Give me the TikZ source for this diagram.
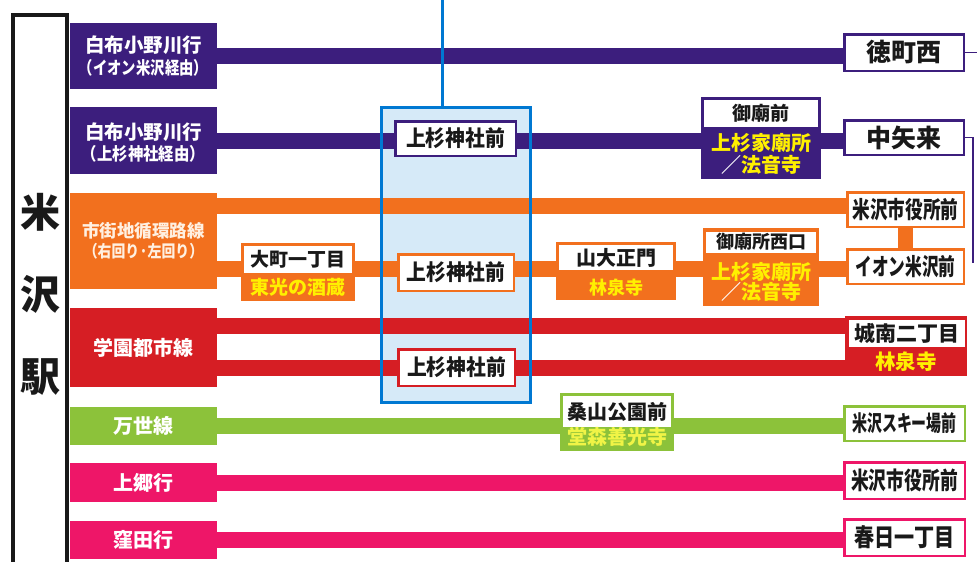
\documentclass[tikz,border=0pt]{standalone}
\usepackage{fontspec}
\setmainfont{Noto Sans CJK JP}
\definecolor{cpur}{RGB}{60,30,125}
\definecolor{cora}{RGB}{242,112,30}
\definecolor{cred}{RGB}{214,30,36}
\definecolor{cgrn}{RGB}{140,194,58}
\definecolor{cpnk}{RGB}{238,22,104}
\definecolor{cblu}{RGB}{0,120,210}
\definecolor{clbl}{RGB}{214,234,248}
\definecolor{ink}{RGB}{25,25,25}
\definecolor{yel}{RGB}{255,240,0}
\newcommand{\condtxt}[2]{\scalebox{#1}[1]{#2}}
\tikzset{
  nbase/.style={inner sep=0pt, outer sep=0pt, align=center},
  fs/.style={font=\bfseries\fontsize{#1}{#1}\selectfont},
  lab/.style={nbase, fill=#1, text=white, minimum width=147pt},
  stopbox/.style={nbase, draw=#1, fill=white, line width=2.5pt, text=ink},
  combo/.style={nbase, fill=#1},
  whitepart/.style={nbase, fill=white, text=ink},
  yeltext/.style={nbase, text=yel},
  route/.style={draw=#1, line width=16pt},
}
\begin{document}
\begin{tikzpicture}[x=1pt,y=-1pt]
\useasboundingbox (0,0) rectangle (977,562);
\clip (0,0) rectangle (977,562);
\fill[white] (0,0) rectangle (977,562);

% blue area (fill)
\node[nbase, fill=clbl, minimum width=149pt, minimum height=295pt] (ubox) at (455.5,254.5) {};

% left labels
\node[lab=cpur, minimum height=66pt] (lab1) at (143.5,56) {};
\node[nbase, text=white, font=\bfseries] (lab1t) at (lab1)
  {\fontsize{19.5}{20}\selectfont 白布小野川行\\[4pt]\fontsize{17.5}{18}\selectfont\condtxt{0.82}{（イオン米沢経由）}};
\node[lab=cpur, minimum height=67pt] (lab2) at (143.5,140.5) {};
\node[nbase, text=white, font=\bfseries] (lab2t) at (143.5,142.5)
  {\fontsize{19.5}{20}\selectfont 白布小野川行\\[2pt]\fontsize{17.5}{18}\selectfont\condtxt{0.88}{（上杉神社経由）}};
\node[lab=cora, minimum height=96pt] (lab3) at (143.5,241) {};
\node[nbase, text={rgb,255:red,255;green,240;blue,225}, font=\bfseries] (lab3t) at (143.5,241)
  {\fontsize{17.5}{18}\selectfont 市街地循環路線\\[3pt]\fontsize{16.5}{17}\selectfont\condtxt{0.84}{（右回り·左回り）}};
\node[lab=cred, minimum height=79pt, fs=20] (lab4) at (143.5,347.5) {学園都市線};
\node[lab=cgrn, minimum height=38pt, fs=20] (lab5) at (143.5,426) {万世線};
\node[lab=cpnk, minimum height=39pt, fs=20] (lab6) at (143.5,482.5) {上郷行};
\node[lab=cpnk, minimum height=38pt, fs=20] (lab7) at (143.5,540) {窪田行};

% station box
\node[nbase, draw=ink, fill=white, line width=4pt, minimum width=54pt, minimum height=580pt, anchor=north] (eki) at (40,15) {};
\node[nbase, text=ink, font=\bfseries\fontsize{40}{82}\selectfont] (ekiname) at (40,294.5) {米\\沢\\駅};

% right stops
\node[stopbox=cpur, minimum width=119.5pt, minimum height=36.5pt, fs=25] (toku) at (904,52.5) {徳町西};
\node[stopbox=cpur, minimum width=119.5pt, minimum height=34.5pt, fs=25] (naka) at (904,137.5) {中矢来};
\node[stopbox=cora, minimum width=116.5pt, minimum height=34.5pt, fs=23.5] (shiyaku1) at (905.5,209.5) {\condtxt{0.75}{米沢市役所前}};
\node[stopbox=cora, minimum width=116.5pt, minimum height=34.5pt, fs=23.5] (aeon) at (905.5,266.5) {\condtxt{0.71}{イオン米沢前}};
\node[stopbox=cgrn, minimum width=120.5pt, minimum height=34.5pt, fs=22] (ski) at (904.5,423.5) {\condtxt{0.68}{米沢スキー場前}};
\node[stopbox=cpnk, minimum width=120.5pt, minimum height=36.5pt, fs=24] (shiyaku2) at (904.5,480.5) {\condtxt{0.74}{米沢市役所前}};
\node[stopbox=cpnk, minimum width=120.5pt, minimum height=36.5pt, fs=24.5] (kasuga) at (904.5,537.5) {\condtxt{0.82}{春日一丁目}};

% combined stops (outer parts)
\node[combo=cpur, minimum width=120pt, minimum height=82pt] (gobyo) at (761,138) {};
\node[combo=cora, minimum width=116pt, minimum height=78pt] (gobyonishi) at (761,267) {};
\node[combo=cora, minimum width=120pt, minimum height=58pt] (sandai) at (616,271) {};
\node[combo=cora, minimum width=114pt, minimum height=58pt] (omachi) at (298,272) {};
\node[combo=cgrn, minimum width=114pt, minimum height=58pt] (kuwa) at (617,422) {};
\node[combo=cred, minimum width=122pt, minimum height=60pt] (jonan) at (906,346) {};

% route lines
\draw[route=cpur] (lab1.east) -- (lab1.east -| toku.west);
\draw[route=cpur] (lab2.east) -- (lab2.east -| naka.west);
\draw[route=cora] ([yshift=35pt]lab3.east) -- ([yshift=35pt]lab3.east -| shiyaku1.west);
\draw[route=cora] ([yshift=-28pt]lab3.east) -- ([yshift=-28pt]lab3.east -| aeon.west);
\draw[route=cora, line width=15pt] (shiyaku1.south) -- (aeon.north);
\draw[route=cred] ([yshift=21.5pt]lab4.east) -- ([yshift=21.5pt]lab4.east -| jonan.west);
\draw[route=cred] ([yshift=-20.5pt]lab4.east) -- ([yshift=-20.5pt]lab4.east -| jonan.west);
\draw[route=cgrn] (lab5.east) -- (lab5.east -| ski.west);
\draw[route=cpnk] (lab6.east) -- (lab6.east -| shiyaku2.west);
\draw[route=cpnk] (lab7.east) -- (lab7.east -| kasuga.west);

% thin connectors at right
\coordinate (tokuEnd) at (977,52.5);
\coordinate (nakaEnd) at (973,263);
\draw[cpur, line width=1.5pt] (toku.east) -- (tokuEnd);
\draw[cpur, line width=1.5pt] (naka.east) -| (nakaEnd);

% blue box border and vertical line
\coordinate (blueTop) at (442,0);
\draw[cblu, line width=3pt] (blueTop) -- (blueTop |- ubox.north);
\draw[cblu, line width=3pt] (ubox.north west) rectangle (ubox.south east);

% stops inside blue box
\node[stopbox=cpur, minimum width=120.5pt, minimum height=34.5pt, fs=22] (us1) at (455.5,138.5) {\condtxt{0.9}{上杉神社前}};
\node[stopbox=cora, minimum width=115.5pt, minimum height=36.5pt, fs=22] (us2) at (456,272.5) {\condtxt{0.9}{上杉神社前}};
\node[stopbox=cred, minimum width=116.5pt, minimum height=36.5pt, fs=22] (us3) at (456.5,367.5) {\condtxt{0.9}{上杉神社前}};

% redraw combined stops on top of lines
\node[combo=cpur, minimum width=120pt, minimum height=82pt] at (gobyo) {};
\node[whitepart, minimum width=114pt, minimum height=27pt, fs=19] (gobyoN) at (761,113.5) {御廟前};
\node[yeltext, font=\bfseries\fontsize{20}{22}\selectfont] (gobyoY) at (761,154) {上杉家廟所\\{\color{white}／}法音寺};

\node[combo=cora, minimum width=116pt, minimum height=78pt] at (gobyonishi) {};
\node[whitepart, minimum width=110pt, minimum height=21pt, fs=18] (gobyonishiN) at (761,242) {御廟所西口};
\node[yeltext, font=\bfseries\fontsize{20}{20}\selectfont] (gobyonishiY) at (761,282) {上杉家廟所\\{\color{white}／}法音寺};

\node[combo=cora, minimum width=120pt, minimum height=58pt] at (sandai) {};
\node[whitepart, minimum width=114pt, minimum height=25pt, fs=20] (sandaiN) at (616,257.5) {山大正門};
\node[yeltext, fs=18] (sandaiY) at (616,288) {林泉寺};

\node[combo=cora, minimum width=114pt, minimum height=58pt] at (omachi) {};
\node[whitepart, minimum width=108pt, minimum height=27pt, fs=19] (omachiN) at (298,259) {大町一丁目};
\node[yeltext, fs=19] (omachiY) at (298,287) {東光の酒蔵};

\node[combo=cgrn, minimum width=114pt, minimum height=58pt] at (kuwa) {};
\node[whitepart, minimum width=108pt, minimum height=31pt, fs=20] (kuwaN) at (617,411.5) {桑山公園前};
\node[yeltext, fs=20, text={rgb,255:red,240;green,244;blue,70}] (kuwaY) at (617,437) {堂森善光寺};

\node[combo=cred, minimum width=122pt, minimum height=60pt] at (jonan) {};
\node[whitepart, minimum width=116pt, minimum height=27pt, fs=21] (jonanN) at (907,333.5) {城南二丁目};
\node[yeltext, fs=20.5] (jonanY) at (906,362) {林泉寺};
\end{tikzpicture}
\end{document}
